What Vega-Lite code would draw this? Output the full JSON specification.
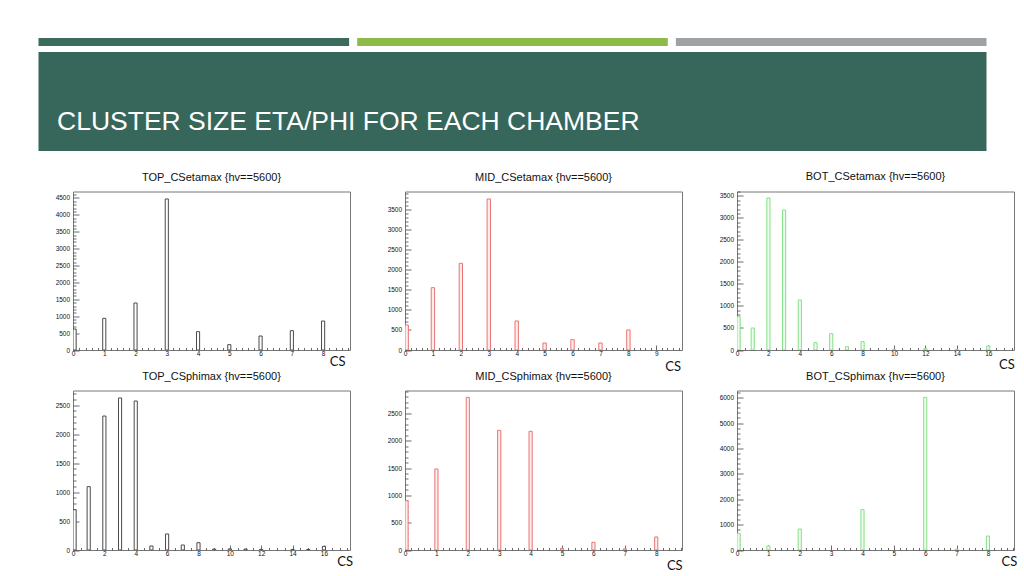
{
  "$schema": "https://vega.github.io/schema/vega-lite/v6.json",
  "background": "white",
  "padding": {"left": 38, "top": 38, "right": 0, "bottom": 0},
  "spacing": 19.5,
  "vconcat": [
    {
      "spacing": 6,
      "vconcat": [
        {
          "width": 913.5,
          "height": 8,
          "view": {"stroke": null},
          "data": {"values": [{"stripe": "dark"}, {"stripe": "lime"}, {"stripe": "grey"}]},
          "mark": {"type": "bar"},
          "encoding": {
            "x": {"field": "stripe", "type": "nominal", "sort": null, "axis": null,
                  "scale": {"range": [-34.5, 913.5], "paddingInner": 0.0253, "paddingOuter": 0}},
            "color": {"field": "stripe", "type": "nominal", "sort": null, "legend": null,
                      "scale": {"domain": ["dark", "lime", "grey"], "range": ["#3c6a5d", "#8dba48", "#9ea2a5"]}}
          }
        },
        {
          "width": 913.5,
          "height": 99,
          "view": {"stroke": null},
          "title": {
            "text": "CLUSTER SIZE ETA/PHI FOR EACH CHAMBER",
            "anchor": "start", "frame": "group", "orient": "top",
            "offset": -104.7, "dx": -16,
            "font": "Liberation Sans", "fontSize": 26.5, "fontWeight": "normal",
            "color": "#ffffff", "baseline": "alphabetic"
          },
          "data": {"values": [{"section": "banner"}]},
          "mark": {"type": "bar", "color": "#37665a"},
          "encoding": {
            "x": {"field": "section", "type": "nominal", "axis": null,
                  "scale": {"range": [-34.5, 913.5], "paddingInner": 0, "paddingOuter": 0}}
          }
        }
      ]
    },
    {
      "columns": 3,
      "bounds": "flush",
      "spacing": {"row": 40, "column": 55},
      "concat": [
        {
          "width": 277, "height": 158.5,
          "title": "TOP_CSetamax {hv==5600}",
          "data": {"values": [
            {"cs": 0, "lo": 0, "hi": 0.1, "n": 620},
            {"cs": 1, "lo": 0.95, "hi": 1.05, "n": 937},
            {"cs": 2, "lo": 1.95, "hi": 2.05, "n": 1391},
            {"cs": 3, "lo": 2.95, "hi": 3.05, "n": 4470},
            {"cs": 4, "lo": 3.95, "hi": 4.05, "n": 543},
            {"cs": 5, "lo": 4.95, "hi": 5.05, "n": 158},
            {"cs": 6, "lo": 5.95, "hi": 6.05, "n": 414},
            {"cs": 7, "lo": 6.95, "hi": 7.05, "n": 572},
            {"cs": 8, "lo": 7.95, "hi": 8.05, "n": 858}
          ]},
          "layer": [
            {
              "mark": {"type": "rect", "fill": "#ffffff", "stroke": "#4a4a4a", "strokeWidth": 1, "clip": true},
              "encoding": {
                "x": {"field": "lo", "type": "quantitative",
                      "scale": {"domain": [0, 8.86], "nice": false, "zero": false},
                      "axis": {"orient": "bottom", "title": "CS", "titleX": 256.3, "titleY": 15.7,
                               "values": [0,1,2,3,4,5,6,7,8], "format": "d", "tickSize": -5, "labelPadding": 5.5}},
                "x2": {"field": "hi"},
                "y": {"field": "n", "type": "quantitative",
                      "scale": {"domain": [0, 4692], "nice": false},
                      "axis": {"orient": "left", "title": null,
                               "values": [0,500,1000,1500,2000,2500,3000,3500,4000,4500], "format": "d", "tickSize": -6, "labelPadding": 9.4}},
                "y2": {"datum": 0}
              }
            },
            {
              "mark": {"type": "rect", "opacity": 0},
              "encoding": {
                "x": {"field": "lo", "type": "quantitative",
                      "axis": {"orient": "bottom", "title": null, "labels": false, "tickSize": -2.5,
                               "values": [0.2,0.4,0.6,0.8,1.2,1.4,1.6,1.8,2.2,2.4,2.6,2.8,3.2,3.4,3.6,3.8,4.2,4.4,4.6,4.8,5.2,5.4,5.6,5.8,6.2,6.4,6.6,6.8,7.2,7.4,7.6,7.8,8.2,8.4,8.6,8.8]}},
                "x2": {"field": "hi"},
                "y": {"field": "n", "type": "quantitative",
                      "axis": {"orient": "left", "title": null, "labels": false, "tickSize": -3,
                               "values": [100,200,300,400,600,700,800,900,1100,1200,1300,1400,1600,1700,1800,1900,2100,2200,2300,2400,2600,2700,2800,2900,3100,3200,3300,3400,3600,3700,3800,3900,4100,4200,4300,4400,4600]}},
                "y2": {"datum": 0}
              }
            }
          ],
          "resolve": {"axis": {"x": "independent", "y": "independent"}}
        },
        {
          "width": 277, "height": 158.5,
          "title": "MID_CSetamax {hv==5600}",
          "data": {"values": [
            {"cs": 0, "lo": 0, "hi": 0.12, "n": 625},
            {"cs": 1, "lo": 0.94, "hi": 1.06, "n": 1558},
            {"cs": 2, "lo": 1.94, "hi": 2.06, "n": 2167},
            {"cs": 3, "lo": 2.94, "hi": 3.06, "n": 3775},
            {"cs": 4, "lo": 3.94, "hi": 4.06, "n": 725},
            {"cs": 5, "lo": 4.94, "hi": 5.06, "n": 175},
            {"cs": 6, "lo": 5.94, "hi": 6.06, "n": 258},
            {"cs": 7, "lo": 6.94, "hi": 7.06, "n": 175},
            {"cs": 8, "lo": 7.94, "hi": 8.06, "n": 500}
          ]},
          "layer": [
            {
              "mark": {"type": "rect", "fill": "#fdeeee", "stroke": "#ec7272", "strokeWidth": 1, "clip": true},
              "encoding": {
                "x": {"field": "lo", "type": "quantitative",
                      "scale": {"domain": [0, 9.92], "nice": false, "zero": false},
                      "axis": {"orient": "bottom", "title": "CS", "titleX": 259.7, "titleY": 20,
                               "values": [0,1,2,3,4,5,6,7,8,9], "format": "d", "tickSize": -5, "labelPadding": 5.5}},
                "x2": {"field": "hi"},
                "y": {"field": "n", "type": "quantitative",
                      "scale": {"domain": [0, 3962], "nice": false},
                      "axis": {"orient": "left", "title": null,
                               "values": [0,500,1000,1500,2000,2500,3000,3500], "format": "d", "tickSize": -6, "labelPadding": 9.4}},
                "y2": {"datum": 0}
              }
            },
            {
              "mark": {"type": "rect", "opacity": 0},
              "encoding": {
                "x": {"field": "lo", "type": "quantitative",
                      "axis": {"orient": "bottom", "title": null, "labels": false, "tickSize": -2.5,
                               "values": [0.2,0.4,0.6,0.8,1.2,1.4,1.6,1.8,2.2,2.4,2.6,2.8,3.2,3.4,3.6,3.8,4.2,4.4,4.6,4.8,5.2,5.4,5.6,5.8,6.2,6.4,6.6,6.8,7.2,7.4,7.6,7.8,8.2,8.4,8.6,8.8,9.2,9.4,9.6,9.8]}},
                "x2": {"field": "hi"},
                "y": {"field": "n", "type": "quantitative",
                      "axis": {"orient": "left", "title": null, "labels": false, "tickSize": -3,
                               "values": [100,200,300,400,600,700,800,900,1100,1200,1300,1400,1600,1700,1800,1900,2100,2200,2300,2400,2600,2700,2800,2900,3100,3200,3300,3400,3600,3700,3800,3900]}},
                "y2": {"datum": 0}
              }
            }
          ],
          "resolve": {"axis": {"x": "independent", "y": "independent"}}
        },
        {
          "width": 277, "height": 158.5,
          "title": "BOT_CSetamax {hv==5600}",
          "data": {"values": [
            {"cs": 0, "lo": 0, "hi": 0.2, "n": 758},
            {"cs": 1, "lo": 0.9, "hi": 1.1, "n": 500},
            {"cs": 2, "lo": 1.9, "hi": 2.1, "n": 3455},
            {"cs": 3, "lo": 2.9, "hi": 3.1, "n": 3182},
            {"cs": 4, "lo": 3.9, "hi": 4.1, "n": 1136},
            {"cs": 5, "lo": 4.9, "hi": 5.1, "n": 167},
            {"cs": 6, "lo": 5.9, "hi": 6.1, "n": 371},
            {"cs": 7, "lo": 6.9, "hi": 7.1, "n": 76},
            {"cs": 8, "lo": 7.9, "hi": 8.1, "n": 189},
            {"cs": 10, "lo": 9.9, "hi": 10.1, "n": 15},
            {"cs": 12, "lo": 11.9, "hi": 12.1, "n": 30},
            {"cs": 14, "lo": 13.9, "hi": 14.1, "n": 10},
            {"cs": 16, "lo": 15.9, "hi": 16.1, "n": 90}
          ]},
          "layer": [
            {
              "mark": {"type": "rect", "fill": "#eefcee", "stroke": "#86e086", "strokeWidth": 1, "clip": true},
              "encoding": {
                "x": {"field": "lo", "type": "quantitative",
                      "scale": {"domain": [0, 17.64], "nice": false, "zero": false},
                      "axis": {"orient": "bottom", "title": "CS", "titleX": 261.6, "titleY": 18.4,
                               "values": [0,2,4,6,8,10,12,14,16], "format": "d", "tickSize": -5, "labelPadding": 5.5}},
                "x2": {"field": "hi"},
                "y": {"field": "n", "type": "quantitative",
                      "scale": {"domain": [0, 3602], "nice": false},
                      "axis": {"orient": "left", "title": null,
                               "values": [0,500,1000,1500,2000,2500,3000,3500], "format": "d", "tickSize": -6, "labelPadding": 9.4}},
                "y2": {"datum": 0}
              }
            },
            {
              "mark": {"type": "rect", "opacity": 0},
              "encoding": {
                "x": {"field": "lo", "type": "quantitative",
                      "axis": {"orient": "bottom", "title": null, "labels": false, "tickSize": -2.5,
                               "values": [0.5,1,1.5,2.5,3,3.5,4.5,5,5.5,6.5,7,7.5,8.5,9,9.5,10.5,11,11.5,12.5,13,13.5,14.5,15,15.5,16.5,17,17.5]}},
                "x2": {"field": "hi"},
                "y": {"field": "n", "type": "quantitative",
                      "axis": {"orient": "left", "title": null, "labels": false, "tickSize": -3,
                               "values": [100,200,300,400,600,700,800,900,1100,1200,1300,1400,1600,1700,1800,1900,2100,2200,2300,2400,2600,2700,2800,2900,3100,3200,3300,3400,3600]}},
                "y2": {"datum": 0}
              }
            }
          ],
          "resolve": {"axis": {"x": "independent", "y": "independent"}}
        },
        {
          "width": 277, "height": 159.5,
          "title": "TOP_CSphimax {hv==5600}",
          "data": {"values": [
            {"cs": 0, "lo": 0, "hi": 0.2, "n": 695},
            {"cs": 1, "lo": 0.9, "hi": 1.1, "n": 1092},
            {"cs": 2, "lo": 1.9, "hi": 2.1, "n": 2310},
            {"cs": 3, "lo": 2.9, "hi": 3.1, "n": 2621},
            {"cs": 4, "lo": 3.9, "hi": 4.1, "n": 2569},
            {"cs": 5, "lo": 4.9, "hi": 5.1, "n": 69},
            {"cs": 6, "lo": 5.9, "hi": 6.1, "n": 276},
            {"cs": 7, "lo": 6.9, "hi": 7.1, "n": 86},
            {"cs": 8, "lo": 7.9, "hi": 8.1, "n": 126},
            {"cs": 9, "lo": 8.9, "hi": 9.1, "n": 15},
            {"cs": 10, "lo": 9.9, "hi": 10.1, "n": 20},
            {"cs": 11, "lo": 10.9, "hi": 11.1, "n": 15},
            {"cs": 12, "lo": 11.9, "hi": 12.1, "n": 10},
            {"cs": 14, "lo": 13.9, "hi": 14.1, "n": 10},
            {"cs": 15, "lo": 14.9, "hi": 15.1, "n": 10},
            {"cs": 16, "lo": 15.9, "hi": 16.1, "n": 63}
          ]},
          "layer": [
            {
              "mark": {"type": "rect", "fill": "#ffffff", "stroke": "#4a4a4a", "strokeWidth": 1, "clip": true},
              "encoding": {
                "x": {"field": "lo", "type": "quantitative",
                      "scale": {"domain": [0, 17.66], "nice": false, "zero": false},
                      "axis": {"orient": "bottom", "title": "CS", "titleX": 263.7, "titleY": 15.7,
                               "values": [0,2,4,6,8,10,12,14,16], "format": "d", "tickSize": -5, "labelPadding": 5.5}},
                "x2": {"field": "hi"},
                "y": {"field": "n", "type": "quantitative",
                      "scale": {"domain": [0, 2750], "nice": false},
                      "axis": {"orient": "left", "title": null,
                               "values": [0,500,1000,1500,2000,2500], "format": "d", "tickSize": -6, "labelPadding": 9.4}},
                "y2": {"datum": 0}
              }
            },
            {
              "mark": {"type": "rect", "opacity": 0},
              "encoding": {
                "x": {"field": "lo", "type": "quantitative",
                      "axis": {"orient": "bottom", "title": null, "labels": false, "tickSize": -2.5,
                               "values": [0.5,1,1.5,2.5,3,3.5,4.5,5,5.5,6.5,7,7.5,8.5,9,9.5,10.5,11,11.5,12.5,13,13.5,14.5,15,15.5,16.5,17,17.5]}},
                "x2": {"field": "hi"},
                "y": {"field": "n", "type": "quantitative",
                      "axis": {"orient": "left", "title": null, "labels": false, "tickSize": -3,
                               "values": [100,200,300,400,600,700,800,900,1100,1200,1300,1400,1600,1700,1800,1900,2100,2200,2300,2400,2600,2700]}},
                "y2": {"datum": 0}
              }
            }
          ],
          "resolve": {"axis": {"x": "independent", "y": "independent"}}
        },
        {
          "width": 277, "height": 159.5,
          "title": "MID_CSphimax {hv==5600}",
          "data": {"values": [
            {"cs": 0, "lo": 0, "hi": 0.1, "n": 902},
            {"cs": 1, "lo": 0.95, "hi": 1.05, "n": 1482},
            {"cs": 2, "lo": 1.95, "hi": 2.05, "n": 2793},
            {"cs": 3, "lo": 2.95, "hi": 3.05, "n": 2189},
            {"cs": 4, "lo": 3.95, "hi": 4.05, "n": 2171},
            {"cs": 5, "lo": 4.95, "hi": 5.05, "n": 30},
            {"cs": 6, "lo": 5.95, "hi": 6.05, "n": 140},
            {"cs": 7, "lo": 6.95, "hi": 7.05, "n": 20},
            {"cs": 8, "lo": 7.95, "hi": 8.05, "n": 238}
          ]},
          "layer": [
            {
              "mark": {"type": "rect", "fill": "#fdeeee", "stroke": "#ec7272", "strokeWidth": 1, "clip": true},
              "encoding": {
                "x": {"field": "lo", "type": "quantitative",
                      "scale": {"domain": [0, 8.82], "nice": false, "zero": false},
                      "axis": {"orient": "bottom", "title": "CS", "titleX": 261.4, "titleY": 19,
                               "values": [0,1,2,3,4,5,6,7,8], "format": "d", "tickSize": -5, "labelPadding": 5.5}},
                "x2": {"field": "hi"},
                "y": {"field": "n", "type": "quantitative",
                      "scale": {"domain": [0, 2918], "nice": false},
                      "axis": {"orient": "left", "title": null,
                               "values": [0,500,1000,1500,2000,2500], "format": "d", "tickSize": -6, "labelPadding": 9.4}},
                "y2": {"datum": 0}
              }
            },
            {
              "mark": {"type": "rect", "opacity": 0},
              "encoding": {
                "x": {"field": "lo", "type": "quantitative",
                      "axis": {"orient": "bottom", "title": null, "labels": false, "tickSize": -2.5,
                               "values": [0.2,0.4,0.6,0.8,1.2,1.4,1.6,1.8,2.2,2.4,2.6,2.8,3.2,3.4,3.6,3.8,4.2,4.4,4.6,4.8,5.2,5.4,5.6,5.8,6.2,6.4,6.6,6.8,7.2,7.4,7.6,7.8,8.2,8.4,8.6,8.8]}},
                "x2": {"field": "hi"},
                "y": {"field": "n", "type": "quantitative",
                      "axis": {"orient": "left", "title": null, "labels": false, "tickSize": -3,
                               "values": [100,200,300,400,600,700,800,900,1100,1200,1300,1400,1600,1700,1800,1900,2100,2200,2300,2400,2600,2700,2800,2900]}},
                "y2": {"datum": 0}
              }
            }
          ],
          "resolve": {"axis": {"x": "independent", "y": "independent"}}
        },
        {
          "width": 277, "height": 159.5,
          "title": "BOT_CSphimax {hv==5600}",
          "data": {"values": [
            {"cs": 0, "lo": 0, "hi": 0.1, "n": 656},
            {"cs": 1, "lo": 0.95, "hi": 1.05, "n": 157},
            {"cs": 2, "lo": 1.95, "hi": 2.05, "n": 827},
            {"cs": 4, "lo": 3.95, "hi": 4.05, "n": 1588},
            {"cs": 6, "lo": 5.95, "hi": 6.05, "n": 6010},
            {"cs": 7, "lo": 6.95, "hi": 7.05, "n": 30},
            {"cs": 8, "lo": 7.95, "hi": 8.05, "n": 551}
          ]},
          "layer": [
            {
              "mark": {"type": "rect", "fill": "#eefcee", "stroke": "#86e086", "strokeWidth": 1, "clip": true},
              "encoding": {
                "x": {"field": "lo", "type": "quantitative",
                      "scale": {"domain": [0, 8.83], "nice": false, "zero": false},
                      "axis": {"orient": "bottom", "title": "CS", "titleX": 264, "titleY": 15,
                               "values": [0,1,2,3,4,5,6,7,8], "format": "d", "tickSize": -5, "labelPadding": 5.5}},
                "x2": {"field": "hi"},
                "y": {"field": "n", "type": "quantitative",
                      "scale": {"domain": [0, 6280], "nice": false},
                      "axis": {"orient": "left", "title": null,
                               "values": [0,1000,2000,3000,4000,5000,6000], "format": "d", "tickSize": -6, "labelPadding": 9.4}},
                "y2": {"datum": 0}
              }
            },
            {
              "mark": {"type": "rect", "opacity": 0},
              "encoding": {
                "x": {"field": "lo", "type": "quantitative",
                      "axis": {"orient": "bottom", "title": null, "labels": false, "tickSize": -2.5,
                               "values": [0.2,0.4,0.6,0.8,1.2,1.4,1.6,1.8,2.2,2.4,2.6,2.8,3.2,3.4,3.6,3.8,4.2,4.4,4.6,4.8,5.2,5.4,5.6,5.8,6.2,6.4,6.6,6.8,7.2,7.4,7.6,7.8,8.2,8.4,8.6,8.8]}},
                "x2": {"field": "hi"},
                "y": {"field": "n", "type": "quantitative",
                      "axis": {"orient": "left", "title": null, "labels": false, "tickSize": -3,
                               "values": [200,400,600,800,1200,1400,1600,1800,2200,2400,2600,2800,3200,3400,3600,3800,4200,4400,4600,4800,5200,5400,5600,5800,6200]}},
                "y2": {"datum": 0}
              }
            }
          ],
          "resolve": {"axis": {"x": "independent", "y": "independent"}}
        }
      ]
    }
  ],
  "config": {
    "view": {"stroke": "#777777", "strokeWidth": 1},
    "axis": {
      "domain": false, "grid": false,
      "labelFont": "Liberation Sans", "labelFontSize": 6.5, "labelColor": "#111111",
      "labelOverlap": false, "labelFlush": false, "labelBound": false,
      "tickColor": "#444444", "tickWidth": 0.8
    },
    "axisX": {
      "titleFont": "Lato", "titleFontSize": 13, "titleFontWeight": "normal", "titleColor": "#111111",
      "titleAlign": "left", "titleBaseline": "alphabetic", "titleAngle": 0
    },
    "title": {
      "font": "Liberation Sans", "fontSize": 11, "fontWeight": "normal", "color": "#111111",
      "anchor": "middle", "frame": "group", "baseline": "alphabetic", "offset": 9
    }
  }
}
